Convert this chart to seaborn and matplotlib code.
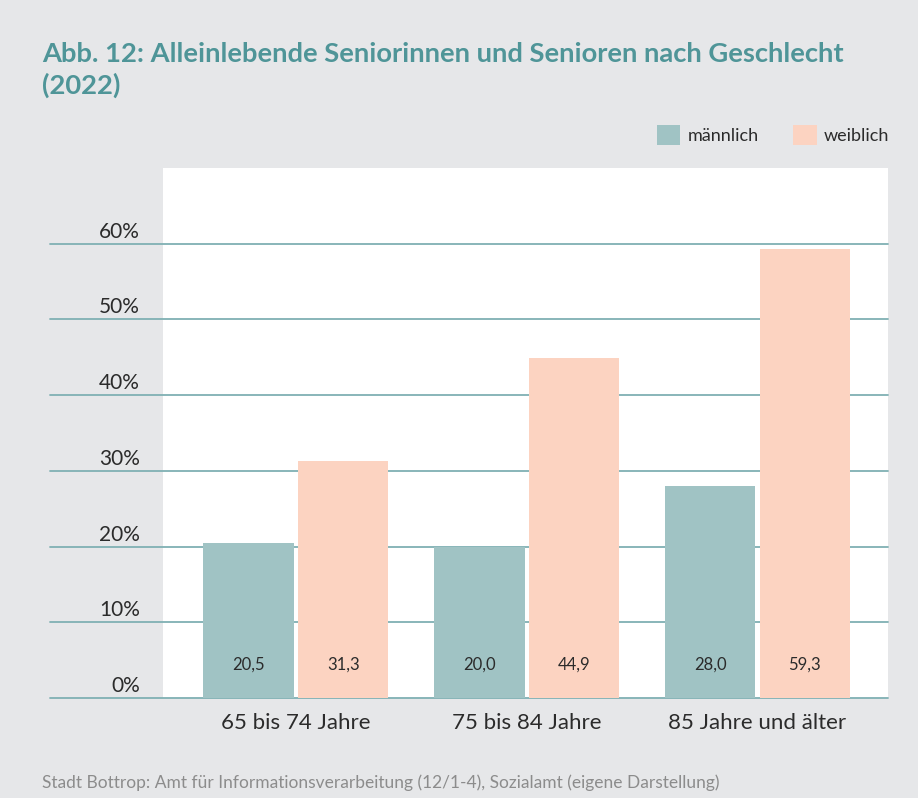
import matplotlib
matplotlib.use("Agg")
import matplotlib.pyplot as plt
import seaborn as sns
import pandas as pd

categories = ["65 bis 74 Jahre", "75 bis 84 Jahre", "85 Jahre und älter"]
maennlich = [20.5, 20.0, 28.0]
weiblich = [31.3, 44.9, 59.3]
series_names = ["männlich", "weiblich"]
y_ticks = [0, 10, 20, 30, 40, 50, 60]
y_tick_labels = ["0%", "10%", "20%", "30%", "40%", "50%", "60%"]
title = "Abb. 12: Alleinlebende Seniorinnen und Senioren nach Geschlecht\n(2022)"
source = "Stadt Bottrop: Amt für Informationsverarbeitung (12/1-4), Sozialamt (eigene Darstellung)"

BG = "#e6e7e9"
TEAL = "#a0c3c4"
PEACH = "#fcd3c1"
GRID = "#7fb0b3"
TITLE_C = "#4f9598"
TEXT_C = "#2b2b2b"

sns.set_theme(style="white")
plt.rcParams["font.family"] = ["Lato", "DejaVu Sans"]

df = pd.DataFrame({
    "Gruppe": categories * 2,
    "Geschlecht": [series_names[0]] * 3 + [series_names[1]] * 3,
    "Wert": maennlich + weiblich,
})

W, H = 918, 798
fig = plt.figure(figsize=(W / 100, H / 100), dpi=100, facecolor=BG)
ax = fig.add_axes([163 / W, (H - 698) / H, 725 / W, 530 / H])
ax.set_facecolor("white")

sns.barplot(data=df, x="Gruppe", y="Wert", hue="Geschlecht",
            palette=[TEAL, PEACH], saturation=1, width=0.82, gap=0.045,
            linewidth=0, edgecolor="none", ax=ax, zorder=3)

ax.set_ylim(0, 70)
ax.set_xlim(-0.575, 2.565)
for s in ax.spines.values():
    s.set_visible(False)
ax.set_xlabel("")
ax.set_ylabel("")
ax.set_yticks([])
ax.tick_params(axis="x", length=0, pad=11, labelsize=16, labelcolor=TEXT_C)

# gridlines extending into the grey margin, with labels above them
x0 = (50 - 163) / 725
xl = (140 - 163) / 725
ytr = ax.get_yaxis_transform()
for v, lab in zip(y_ticks, y_tick_labels):
    ax.plot([x0, 1], [v, v], transform=ytr, color=GRID, lw=1.3,
            clip_on=False, zorder=2)
    ax.annotate(lab, xy=(xl, v), xycoords=ytr, xytext=(0, 6),
                textcoords="offset pixels", ha="right", va="baseline",
                fontsize=15, color=TEXT_C, annotation_clip=False)

# value labels inside the bars near the bottom
for container, vals in zip(ax.containers, [maennlich, weiblich]):
    for bar, v in zip(container, vals):
        ax.text(bar.get_x() + bar.get_width() / 2, 4.4,
                f"{v:.1f}".replace(".", ","), ha="center", va="center",
                fontsize=12, color=TEXT_C, zorder=4)

sns.move_legend(ax, loc="upper right", bbox_to_anchor=(1.024, 1.112),
                ncol=2, frameon=False, title=None, fontsize=13,
                handlelength=1.3, handleheight=1.3, handletextpad=0.4,
                columnspacing=1.9, labelcolor=TEXT_C)

fig.text(42 / W, 1 - 70 / H, title, ha="left", va="center",
         fontsize=19.7, fontweight="bold", color=TITLE_C, linespacing=1.3)
fig.text(42 / W, 1 - 783 / H, source, ha="left", va="center",
         fontsize=12.5, color="#8c8c8c")

fig.savefig("out.png", dpi=100, facecolor=BG)
